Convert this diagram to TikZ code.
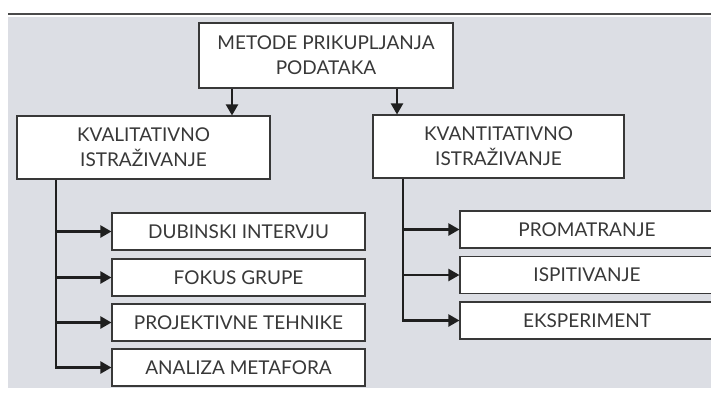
\documentclass[tikz,border=0pt]{standalone}
\usepackage{fontspec}
\setmainfont{Lato}
\usetikzlibrary{arrows.meta}
\definecolor{bg}{HTML}{DCDEE4}
\definecolor{ink}{HTML}{383838}
\definecolor{rule}{HTML}{4A4A4A}
\begin{document}
\begin{tikzpicture}[x=1pt,y=-1pt,
  box/.style={draw=ink, line width=1.1pt, fill=white, text=ink, align=center,
    inner sep=0pt, font=\fontsize{19}{25}\selectfont},
  subbox/.style={box, minimum height=37pt},
  conn/.style={line width=2.2pt, draw=black!88},
  arr/.style={conn, -{Triangle[length=11pt,width=12pt]}}]
\useasboundingbox (0,0) rectangle (711,397);
\fill[white] (0,0) rectangle (711,397);
\fill[bg] (8,17) rectangle (711,388);
\draw[line width=2.4pt, rule] (8,14) -- (711,14);

\node[box, minimum width=254pt, minimum height=65pt] (top) at (326,55.5) {METODE PRIKUPLJANJA\\PODATAKA};
\node[box, minimum width=253pt, minimum height=63pt] (kval) at (143.5,147.5) {KVALITATIVNO\\ISTRAŽIVANJE};
\node[box, minimum width=251pt, minimum height=63pt] (kvan) at (498.5,146.5) {KVANTITATIVNO\\ISTRAŽIVANJE};

\node[subbox, minimum width=253pt] (m1) at (238.5,231.5) {DUBINSKI INTERVJU};
\node[subbox, minimum width=253pt] (m2) at (238.5,277.5) {FOKUS GRUPE};
\node[subbox, minimum width=253pt] (m3) at (238.5,322.5) {PROJEKTIVNE TEHNIKE};
\node[subbox, minimum width=253pt] (m4) at (238.5,367.5) {ANALIZA METAFORA};

\node[subbox, minimum width=254pt] (n1) at (587,229.5) {PROMATRANJE};
\node[subbox, minimum width=254pt] (n2) at (587,275) {ISPITIVANJE};
\node[subbox, minimum width=254pt] (n3) at (587,320.5) {EKSPERIMENT};

\draw[arr] ([xshift=-94pt]top.south) -- ([xshift=-94pt]top.south |- kval.north);
\draw[arr] ([xshift=71pt]top.south) -- ([xshift=71pt]top.south |- kvan.north);

\coordinate (lt) at ([xshift=-87.5pt]kval.south);
\coordinate (rt) at ([xshift=-95.5pt]kvan.south);

\draw[arr] (lt) |- (m4.west);
\draw[arr] (lt |- m1.west) -- (m1.west);
\draw[arr] (lt |- m2.west) -- (m2.west);
\draw[arr] (lt |- m3.west) -- (m3.west);

\draw[arr] (rt) |- (n3.west);
\draw[arr] (rt |- n1.west) -- (n1.west);
\draw[arr] (rt |- n2.west) -- (n2.west);
\end{tikzpicture}
\end{document}
